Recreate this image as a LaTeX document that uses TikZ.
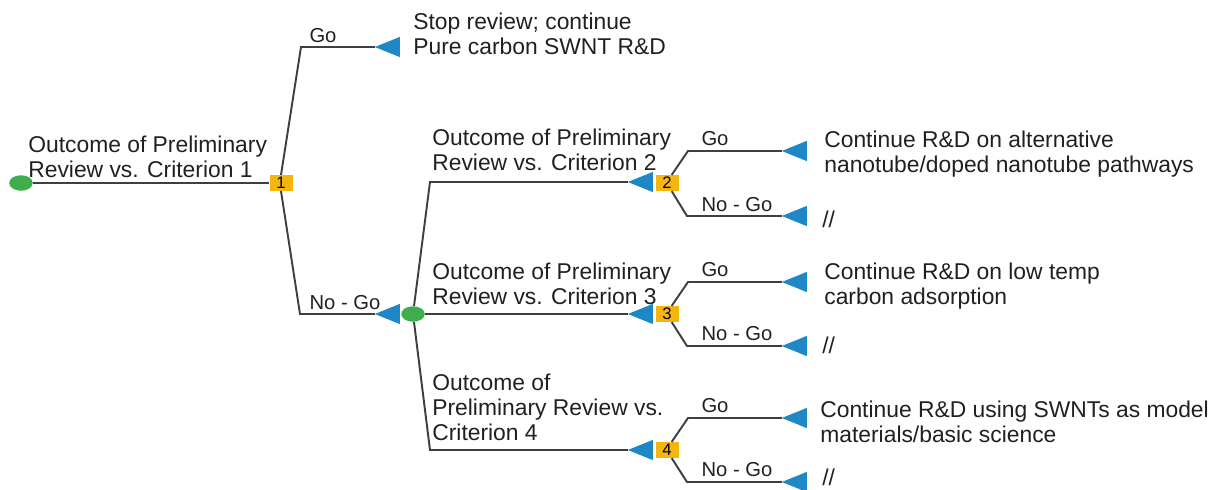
\documentclass[tikz,border=0pt]{standalone}
\usepackage{fontspec}
\setmainfont{Liberation Sans}
\usepackage{xcolor}
\usetikzlibrary{positioning, shapes.geometric}
\definecolor{chancegreen}{HTML}{3DAE49}
\definecolor{decorange}{HTML}{F5B50F}
\definecolor{leafblue}{HTML}{1E88C7}
\definecolor{linegray}{HTML}{3C3F48}
\definecolor{txtgray}{HTML}{231F20}

\begin{document}
\begin{tikzpicture}[x=0.02cm, y=-0.02cm,
    chance/.style={ellipse, fill=chancegreen, minimum width=0.47cm, minimum height=0.31cm, inner sep=0},
    dec/.style={rectangle, fill=decorange, minimum width=0.46cm, minimum height=0.31cm, inner sep=0, font=\fontsize{9.5}{9.5}\selectfont},
    leaf/.style={isosceles triangle, shape border rotate=180, isosceles triangle apex angle=44, fill=leafblue, minimum height=0.5cm, inner sep=0, outer sep=0},
    link/.style={draw=linegray, line width=1.1pt},
    lbl/.style={font=\fontsize{11.5}{13}\selectfont, text=txtgray, inner sep=0},
    txt/.style={font=\fontsize{13}{14.2}\selectfont, text=txtgray, align=left, anchor=west, inner sep=0},
]
\useasboundingbox (0,0) rectangle (1211,490);

% decision and chance nodes
\node[chance] (c0) at (21,183) {};
\node[dec] (d1) at (281,183) {1};
\node[leaf] (go1) at (393,47) {};
\node[leaf] (nogo1) at (393,314) {};
\node[chance] (c1) at (413,314) {};

\node[leaf] (t2) at (646,182) {};
\node[dec] (d2) at (667,183) {2};
\node[leaf] (t3) at (646,314) {};
\node[dec] (d3) at (667,314) {3};
\node[leaf] (t4) at (646,450) {};
\node[dec] (d4) at (667,450) {4};

\node[leaf] (go2) at (800,151) {};
\node[leaf] (nogo2) at (800,216) {};
\node[leaf] (go3) at (800,282) {};
\node[leaf] (nogo3) at (800,346) {};
\node[leaf] (go4) at (800,418) {};
\node[leaf] (nogo4) at (800,482) {};

% connectors
\draw[link] (c0) -- (d1);
\draw[link] (d1.north) -- (301,47) -- (go1);
\draw[link] (d1.south) -- (300,314) -- (nogo1);
\draw[link] (c1) -- (430,182) -- (t2);
\draw[link] (c1) -- (t3);
\draw[link] (c1) -- (430,450) -- (t4);
\draw[link] (d2.60) -- (688,151) -- (go2);
\draw[link] (d2.-60) -- (687,216) -- (nogo2);
\draw[link] (d3.60) -- (688,282) -- (go3);
\draw[link] (d3.-60) -- (687,346) -- (nogo3);
\draw[link] (d4.60) -- (688,418) -- (go4);
\draw[link] (d4.-60) -- (687,482) -- (nogo4);

% branch labels
\node[lbl] (lgo1) at (323,36) {Go};
\node[lbl] (lnogo1) at (345,303) {No - Go};
\node[lbl] (lgo2) at (715,139) {Go};
\node[lbl] (lnogo2) at (737,205) {No - Go};
\node[lbl] (lgo3) at (715,270) {Go};
\node[lbl] (lnogo3) at (737,334) {No - Go};
\node[lbl] (lgo4) at (715,406) {Go};
\node[lbl] (lnogo4) at (737,470) {No - Go};

% texts
\node[txt] (crit1) at (28,157) {Outcome of Preliminary\\Review vs. Criterion 1};
\node[txt] (stop) at (413,34) {Stop review; continue\\Pure carbon SWNT R\&D};
\node[txt] (crit2) at (432,150) {Outcome of Preliminary\\Review vs. Criterion 2};
\node[txt] (crit3) at (432,284) {Outcome of Preliminary\\Review vs. Criterion 3};
\node[txt] (crit4) at (432,407) {Outcome of\\Preliminary Review vs.\\Criterion 4};
\node[txt] (out2) at (824,154) {Continue R\&D on alternative\\nanotube/doped nanotube pathways};
\node[txt] (out3) at (824,286) {Continue R\&D on low temp\\carbon adsorption};
\node[txt] (out4) at (820,422) {Continue R\&D using SWNTs as model\\materials/basic science};
\node[txt] (end2) at (822,219) {//};
\node[txt] (end3) at (822,345) {//};
\node[txt] (end4) at (822,477) {//};
\end{tikzpicture}
\end{document}
